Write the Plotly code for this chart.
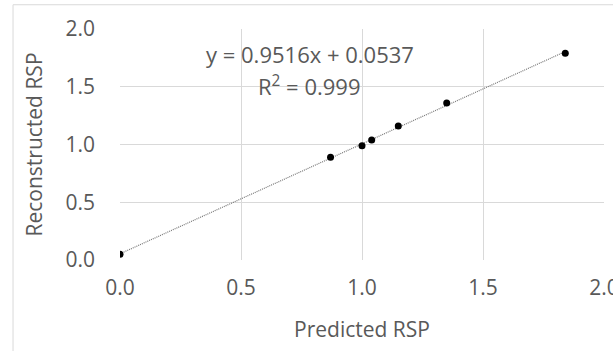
import plotly.graph_objects as go

# Predicted vs reconstructed relative stopping power (RSP)
predicted_rsp = [0.0, 0.87, 1.0, 1.04, 1.15, 1.35, 1.84]
reconstructed_rsp = [0.05, 0.89, 0.99, 1.04, 1.16, 1.36, 1.79]

# Linear fit reported for the data
slope = 0.9516
intercept = 0.0537
r_squared = 0.999

tick_vals = [0.0, 0.5, 1.0, 1.5, 2.0]
tick_text = ["0.0", "0.5", "1.0", "1.5", "2.0"]

FONT = "Open Sans"
FONT_SIZE = 21
TEXT_COLOR = "#595959"
GRID_COLOR = "#d9d9d9"

x_fit = [min(predicted_rsp), max(predicted_rsp)]
y_fit = [slope * x + intercept for x in x_fit]

fig = go.Figure()

fig.add_trace(go.Scatter(
    x=x_fit, y=y_fit, mode="lines",
    line=dict(color="#777777", width=1.2, dash="1px,1px"),
    hoverinfo="skip", showlegend=False,
))

fig.add_trace(go.Scatter(
    x=predicted_rsp, y=reconstructed_rsp, mode="markers",
    marker=dict(color="#000000", size=7),
    showlegend=False,
))

fig.add_annotation(
    x=0.784, y=1.78, xref="x", yref="y",
    text=f"y = {slope}x + {intercept}",
    showarrow=False, font=dict(family=FONT, size=22, color=TEXT_COLOR),
)
fig.add_annotation(
    x=0.784, y=1.515, xref="x", yref="y",
    text=f"R<sup>2</sup> = {r_squared}",
    showarrow=False, font=dict(family=FONT, size=22, color=TEXT_COLOR),
)

# chart-area outline
fig.add_shape(
    type="rect", xref="paper", yref="paper",
    x0=-0.221, x1=1.2, y0=-0.5, y1=1.105,
    line=dict(color="#d9d9d9", width=1), fillcolor="rgba(0,0,0,0)",
    layer="below",
)

axis_common = dict(
    range=[0, 2.0], tickvals=tick_vals, ticktext=tick_text,
    showgrid=True, gridcolor=GRID_COLOR, gridwidth=1,
    zeroline=False, showline=False, ticks="",
    tickfont=dict(family=FONT, size=FONT_SIZE, color=TEXT_COLOR),
    ticklabeloverflow="allow", automargin=False,
    fixedrange=True,
)

fig.update_layout(
    width=613, height=351,
    margin=dict(l=120, r=9, t=29, b=91),
    plot_bgcolor="white", paper_bgcolor="white",
    xaxis=dict(
        **axis_common, ticklabelstandoff=13,
        title=dict(text="Predicted RSP", standoff=22,
                   font=dict(family=FONT, size=FONT_SIZE, color=TEXT_COLOR)),
    ),
    yaxis=dict(
        **axis_common, ticklabelstandoff=24,
        title=dict(text="Reconstructed RSP", standoff=17,
                   font=dict(family=FONT, size=FONT_SIZE, color=TEXT_COLOR)),
    ),
)

fig.write_html("out.html")
